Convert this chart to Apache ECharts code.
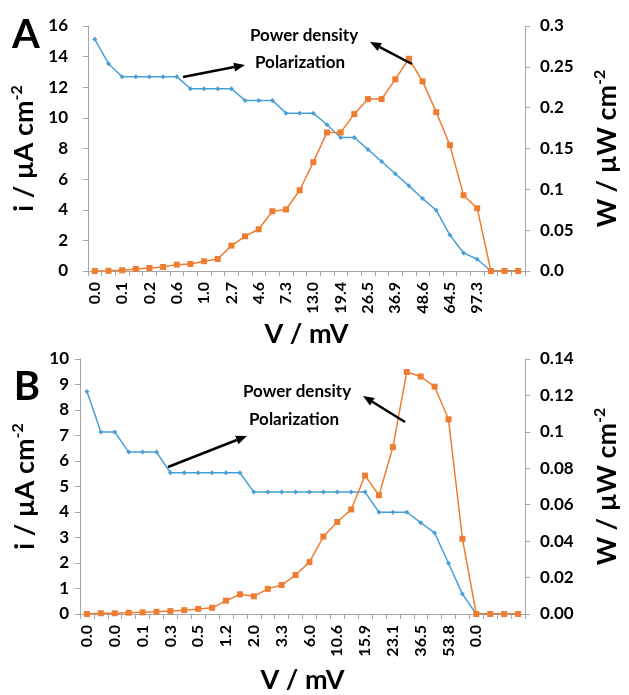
<!DOCTYPE html>
<html><head><meta charset="utf-8">
<script src="https://cdn.jsdelivr.net/npm/echarts@6/dist/echarts.min.js"></script>
<style>html,body{margin:0;padding:0;background:#fff}#c{width:629px;height:695px}</style>
</head><body><div id="c"></div>
<script>
// ---- Panel A data ----
const catA = ['0.0','','0.1','','0.2','','0.6','','1.0','','2.7','','4.6','','7.3','','13.0','','19.4','','26.5','','36.9','','48.6','','64.5','','97.3','','',''];
const polA = [15.13,13.54,12.69,12.69,12.69,12.69,12.69,11.9,11.9,11.9,11.9,11.14,11.14,11.14,10.31,10.31,10.31,9.55,8.72,8.72,7.94,7.15,6.35,5.56,4.73,3.97,2.35,1.18,0.77,0,0,0];
const powA = [0,0.0003,0.0009,0.0025,0.0037,0.0049,0.0078,0.0086,0.0119,0.0147,0.0311,0.0425,0.0511,0.0732,0.0753,0.0989,0.1333,0.1697,0.1697,0.1921,0.2105,0.2105,0.2347,0.2599,0.2322,0.1946,0.1541,0.0928,0.0769,0,0,0];
const rightTicksA = ['0.0','0.05','0.1','0.15','0.2','0.25','0.3'];
// ---- Panel B data ----
const catB = ['0.0','','0.0','','0.1','','0.3','','0.5','','1.2','','2.0','','3.3','','6.0','','10.6','','15.9','','23.1','','36.5','','53.8','','0.0','','',''];
const polB = [8.73,7.14,7.14,6.35,6.35,6.35,5.54,5.54,5.54,5.54,5.54,5.54,4.78,4.78,4.78,4.78,4.78,4.78,4.78,4.78,4.78,3.99,3.99,3.99,3.58,3.18,1.99,0.78,0,0,0,0];
const powB = [0,0.0004,0.0004,0.0007,0.0009,0.0012,0.0016,0.0021,0.0028,0.0034,0.0073,0.0108,0.0097,0.0138,0.0159,0.0214,0.0285,0.0425,0.0505,0.0574,0.0760,0.0652,0.0916,0.1329,0.1304,0.1248,0.1069,0.0413,0,0,0,0];
const rightTicksB = ['0.00','0.02','0.04','0.06','0.08','0.1','0.12','0.14'];

const FONT = 'Lato';
const BLUE = '#4a9fd8', ORANGE = '#ee7d32', AXC = '#a6a6a6';

function nameRich(){
  return {fontFamily:FONT,fontWeight:'bold',color:'#000',
    rich:{m:{fontFamily:FONT,fontWeight:'bold',fontSize:27,color:'#000',verticalAlign:'bottom'},
          s:{fontFamily:FONT,fontWeight:'bold',fontSize:16,color:'#000',verticalAlign:'bottom',padding:[0,0,13,0]}}};
}
function xAxis(idx, cats, gap){
  return {type:'category',gridIndex:idx,data:cats,boundaryGap:true,
    axisLine:{lineStyle:{color:AXC,width:1}},
    axisTick:{show:true,interval:0,length:5,lineStyle:{color:AXC}},
    axisLabel:{interval:0,rotate:90,margin:11,fontFamily:FONT,fontWeight:'bold',fontSize:16,color:'#000'},
    name:'V / mV',nameLocation:'middle',nameGap:gap,
    nameTextStyle:{fontFamily:FONT,fontWeight:'bold',fontSize:27,color:'#000'}};
}
function yLeft(idx,max,interval,gap,margin){
  return {type:'value',gridIndex:idx,min:0,max:max,interval:interval,
    axisLine:{show:true,lineStyle:{color:AXC}},axisTick:{show:true,length:5,lineStyle:{color:AXC}},
    splitLine:{show:false},
    axisLabel:{margin:margin,fontFamily:FONT,fontWeight:'bold',fontSize:17,color:'#000'},
    name:'{m|i / µA cm}{s|-2}',nameLocation:'middle',nameRotate:90,nameGap:gap,nameTextStyle:nameRich()};
}
function yRight(idx,max,interval,ticks,gap){
  return {type:'value',gridIndex:idx,position:'right',min:0,max:max,interval:interval,
    axisLine:{show:true,lineStyle:{color:AXC}},axisTick:{show:true,length:5,lineStyle:{color:AXC}},
    splitLine:{show:false},
    axisLabel:{margin:15,fontFamily:FONT,fontWeight:'bold',fontSize:17,color:'#000',
      formatter:function(v){return ticks[Math.round(v/interval)];}},
    name:'{m|W / µW cm}{s|-2}',nameLocation:'middle',nameRotate:90,nameGap:gap,nameTextStyle:nameRich()};
}
function blue(xi,yi,data){
  return {type:'line',xAxisIndex:xi,yAxisIndex:yi,data:data,symbol:'diamond',symbolSize:5,
    lineStyle:{color:BLUE,width:1.5},itemStyle:{color:BLUE},z:2,animation:false};
}
function orange(xi,yi,data){
  return {type:'line',xAxisIndex:xi,yAxisIndex:yi,data:data,symbol:'rect',symbolSize:6,
    lineStyle:{color:ORANGE,width:1.5},itemStyle:{color:ORANGE},z:3,animation:false};
}
function arrow(x1,y1,x2,y2){
  const dx=x2-x1, dy=y2-y1, L=Math.sqrt(dx*dx+dy*dy), ux=dx/L, uy=dy/L;
  const hl=11, hw=4.5;
  const bx=x2-ux*hl, by=y2-uy*hl;
  return [
    {type:'line',shape:{x1:x1,y1:y1,x2:bx,y2:by},style:{stroke:'#000',lineWidth:2.5},z:10},
    {type:'polygon',shape:{points:[[x2,y2],[bx-uy*hw,by+ux*hw],[bx+uy*hw,by-ux*hw]]},style:{fill:'#000'},z:10}
  ];
}
function label(text,x,y,size,anchor){
  return {type:'text',x:x,y:y,style:{text:text,font:'bold '+size+'px '+FONT,fill:'#000',textAlign:anchor||'center',textVerticalAlign:'middle'},z:10};
}

const chart = echarts.init(document.getElementById('c'),null,{renderer:'canvas'});
chart.setOption({
  animation:false,
  backgroundColor:'#fff',
  grid:[{left:88,right:92,top:26,height:245},{left:80,right:92,top:359,height:263}],
  xAxis:[xAxis(0,catA,50),xAxis(1,catB,53)],
  yAxis:[yLeft(0,16,2,46,20),yRight(0,0.3,0.05,rightTicksA,67),yLeft(1,10,1,37,11),yRight(1,0.14,0.02,rightTicksB,67)],
  series:[blue(0,0,polA),orange(0,1,powA),blue(1,2,polB),orange(1,3,powB)],
  graphic:[
    label('A',26,35,40),label('B',27,387,40),
    label('Power density',304,36,17),label('Polarization',300,63,17),
    label('Power density',297,392,17),label('Polarization',294,420,17),
    ...arrow(183,77,245,65),...arrow(412,64,370,42),
    ...arrow(168,467,247,436),...arrow(405,422,363,396)
  ]
});
</script></body></html>
